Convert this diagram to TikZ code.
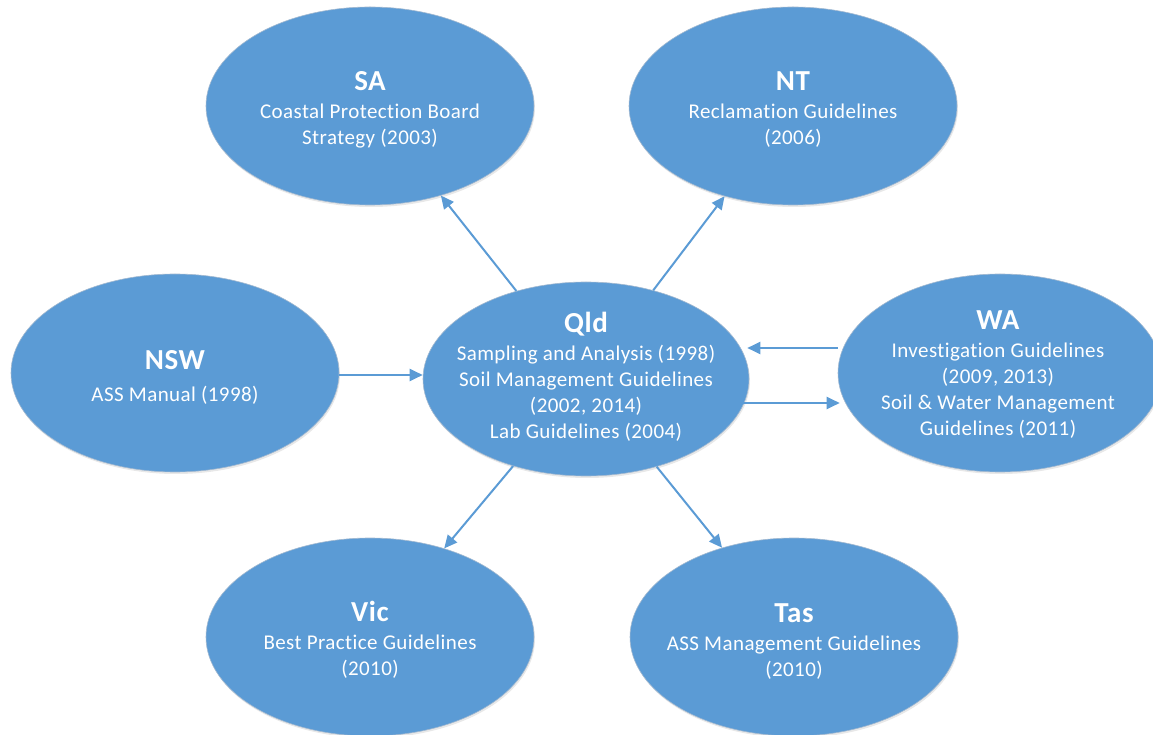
\documentclass[tikz,border=0pt]{standalone}
\usepackage{fontspec}
\setmainfont{Carlito}[LetterSpace=2,Ligatures=NoCommon]
\usetikzlibrary{shapes.geometric,arrows.meta,shadows}
\definecolor{oblue}{HTML}{5B9BD5}
\definecolor{oedge}{HTML}{A3B9D0}
\tikzset{
  state/.style={ellipse, fill=oblue, draw=oedge, line width=0.6pt,
    minimum width=328pt, minimum height=198pt, inner sep=0pt,
    drop shadow={opacity=0.18, shadow xshift=1pt, shadow yshift=-2pt}},
  lbl/.style={text=white, align=center, inner sep=0pt,
    font=\fontsize{21}{26}\selectfont},
  arr/.style={draw=oblue, line width=2pt, -{Triangle[length=13pt,width=12pt]}},
}
\newcommand{\ttlx}[1]{{\fontsize{29}{30}\selectfont\bfseries #1}}
\begin{document}
\begin{tikzpicture}[x=1pt,y=1pt]
\useasboundingbox (0,0) rectangle (1153,734);
\node[state] (SA) at (370,628) {};
\node[state] (NT) at (793,628) {};
\node[state] (NSW) at (175,361) {};
\node[state, minimum width=326pt, minimum height=194pt] (Qld) at (586,355) {};
\node[state, minimum width=324pt] (WA) at (1000,361) {};
\node[state] (Vic) at (370,97) {};
\node[state] (Tas) at (794,97) {};
\node[lbl] (SAt) at ([yshift=-4pt]SA.center) {\ttlx{SA}\\[2pt]Coastal Protection Board\\Strategy (2003)};
\node[lbl] (NTt) at ([yshift=-4pt]NT.center) {\ttlx{NT}\\[2pt]Reclamation Guidelines\\(2006)};
\node[lbl] (NSWt) at ([yshift=-4pt]NSW.center) {\ttlx{NSW}\\[6pt]ASS Manual (1998)};
\node[lbl] (Qldt) at ([yshift=2pt]Qld.center) {\ttlx{Qld}\\[2pt]Sampling and Analysis (1998)\\Soil Management Guidelines\\(2002, 2014)\\Lab Guidelines (2004)};
\node[lbl, xshift=-2pt] (WAt) at ([yshift=-2pt]WA.center) {\ttlx{WA}\\[2pt]Investigation Guidelines\\(2009, 2013)\\Soil \& Water Management\\Guidelines (2011)};
\node[lbl] (Vict) at ([yshift=-3pt]Vic.center) {\ttlx{Vic}\\[2pt]Best Practice Guidelines\\(2010)};
\node[lbl] (Tast) at ([yshift=-5pt]Tas.center) {\ttlx{Tas}\\[2pt]ASS Management Guidelines\\(2010)};
\draw[arr] (Qld) -- (SA);
\draw[arr] (Qld) -- (NT);
\draw[arr] (Qld) -- (Vic);
\draw[arr] (Qld) -- (Tas);
\draw[arr] ([yshift=-2pt]NSW.east) -- ([yshift=4pt]Qld.west);
\draw[arr] ([yshift=25pt]WA.west) -- ([yshift=31pt,xshift=-2pt]Qld.east);
\draw[arr] ([yshift=-24pt,xshift=-6pt]Qld.east) -- ([yshift=-30pt,xshift=2pt]WA.west);
\end{tikzpicture}
\end{document}
